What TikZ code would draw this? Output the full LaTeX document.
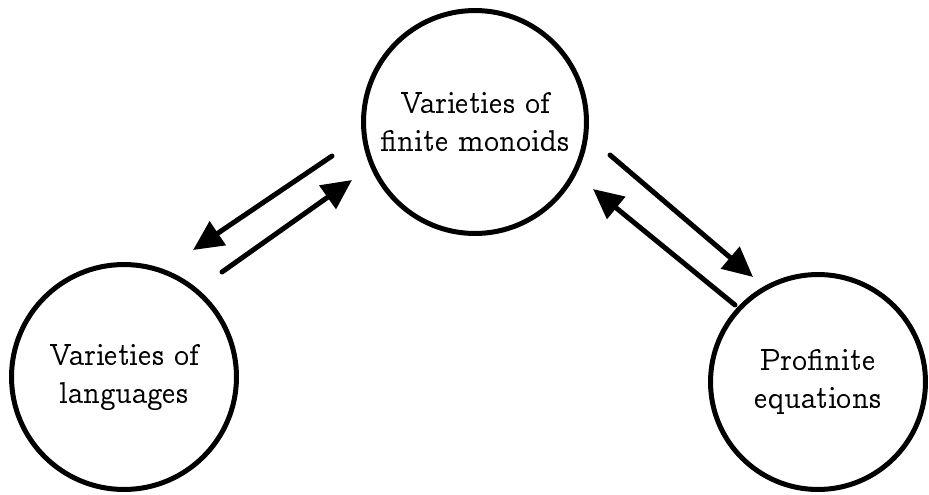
\documentclass[tikz,border=0pt]{standalone}
\usepackage[OT1]{fontenc}
\usepackage{ccfonts}
\usetikzlibrary{arrows.meta}
\begin{document}
\begin{tikzpicture}[x=0.02cm,y=-0.02cm,
  bubble/.style={circle,draw,line width=0.1cm,align=center,inner sep=0pt,
    font=\fontsize{16}{21.5}\selectfont},
  link/.style={line width=0.1cm,line cap=round,-{Triangle[length=0.6cm,width=0.56cm]}}]
\useasboundingbox (0,0) rectangle (929,494);
\node[bubble,minimum size=4.46cm] (mon) at (475,122) {Varieties of\\finite monoids};
\node[bubble,minimum size=4.5cm] (lang) at (124,377) {Varieties of\\languages};
\node[bubble,minimum size=4.3cm] (prof) at (818,382) {Profinite\\equations};
\coordinate (a1s) at (332,156);
\coordinate (a1e) at (193,250);
\coordinate (a2s) at (222,272);
\coordinate (a2e) at (352,180);
\coordinate (a3s) at (610,155);
\coordinate (a3e) at (753,277);
\coordinate (a4s) at (735,305);
\coordinate (a4e) at (593,189);
\draw[link] (a1s) -- (a1e);
\draw[link] (a2s) -- (a2e);
\draw[link] (a3s) -- (a3e);
\draw[link] (a4s) -- (a4e);
\end{tikzpicture}
\end{document}
